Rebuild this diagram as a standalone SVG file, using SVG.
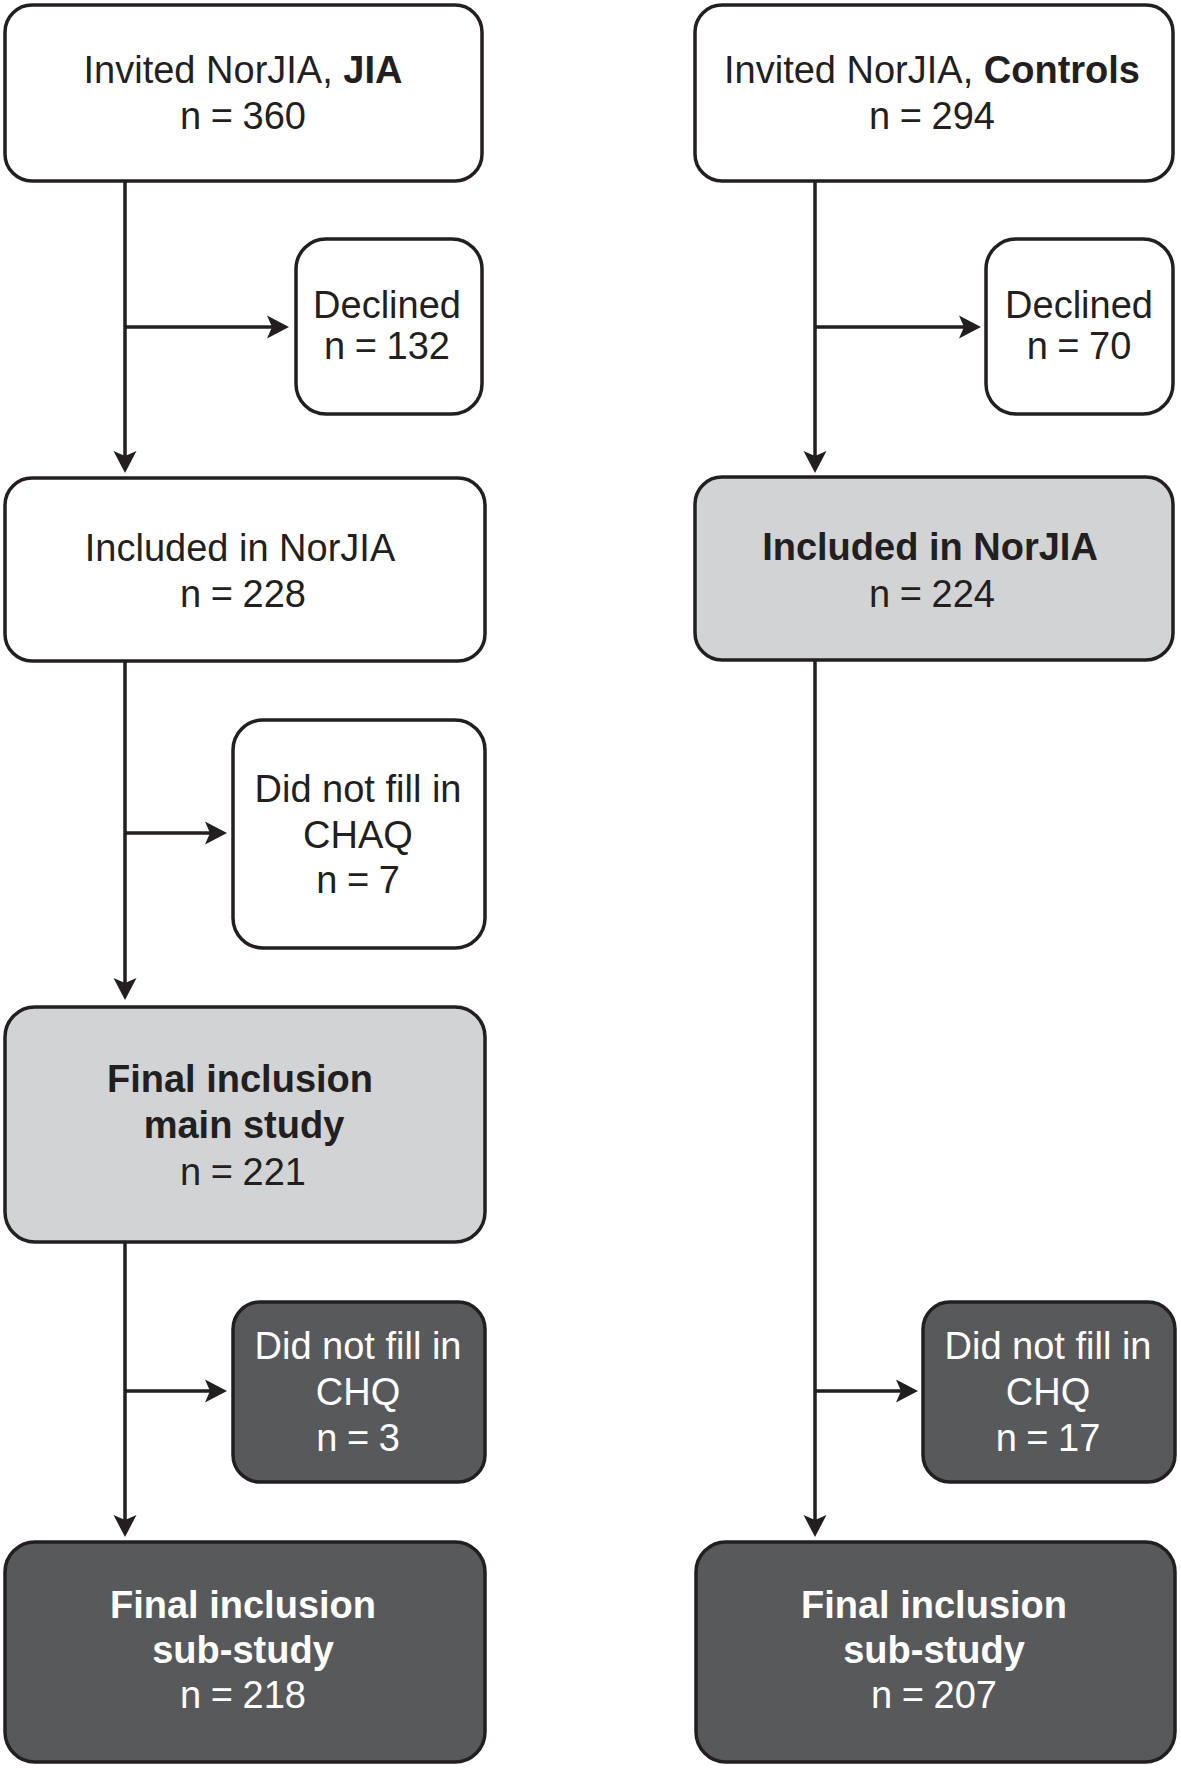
<svg xmlns="http://www.w3.org/2000/svg" width="1181" height="1770" viewBox="0 0 1181 1770">
<defs>
<style>
.box{stroke:#231f20;stroke-width:3.5}
.white{fill:#ffffff}
.gray{fill:#d1d3d4}
.dark{fill:#58595b}
text{font-family:"Liberation Sans",Arial,sans-serif;font-size:38px;text-anchor:middle;fill:#231f20}
.b{font-weight:bold}
.lt{fill:#ffffff}
.n{word-spacing:-1px}
.conn{stroke:#231f20;stroke-width:3.5;fill:none;marker-end:url(#arr)}
</style>
<marker id="arr" markerUnits="userSpaceOnUse" markerWidth="22" markerHeight="24" viewBox="0 0 22 24" refX="16" refY="12" orient="auto">
<path d="M0,0.5 L22,12 L0,23.5 L5,12 Z" fill="#231f20"/>
</marker>
</defs>
<rect width="1181" height="1770" fill="#ffffff"/>
<g id="connectors">
<line class="conn" x1="125" y1="181" x2="125" y2="467"/>
<line class="conn" x1="125" y1="327" x2="283" y2="327"/>
<line class="conn" x1="125" y1="661" x2="125" y2="994"/>
<line class="conn" x1="125" y1="833" x2="221" y2="833"/>
<line class="conn" x1="125" y1="1242" x2="125" y2="1531"/>
<line class="conn" x1="125" y1="1391" x2="221" y2="1391"/>
<line class="conn" x1="815" y1="181" x2="815" y2="467"/>
<line class="conn" x1="815" y1="327" x2="975" y2="327"/>
<line class="conn" x1="815" y1="660" x2="815" y2="1531"/>
<line class="conn" x1="815" y1="1391" x2="912" y2="1391"/>
</g>
<g id="invited-jia">
<rect class="box white" x="5" y="5" width="477" height="176" rx="27"/>
<text x="243" y="83">Invited NorJIA, <tspan class="b">JIA</tspan></text>
<text class="n" x="243" y="129">n = 360</text>
</g>
<g id="declined-jia">
<rect class="box white" x="296" y="239" width="186" height="175" rx="30"/>
<text x="387" y="318">Declined</text>
<text class="n" x="387" y="359">n = 132</text>
</g>
<g id="included-jia">
<rect class="box white" x="5" y="478" width="480" height="183" rx="27"/>
<text x="240" y="561">Included in NorJIA</text>
<text class="n" x="243" y="607">n = 228</text>
</g>
<g id="chaq-jia">
<rect class="box white" x="233" y="720" width="252" height="228" rx="30"/>
<text x="358" y="802">Did not fill in</text>
<text x="358" y="848">CHAQ</text>
<text class="n" x="358" y="893">n = 7</text>
</g>
<g id="final-main">
<rect class="box gray" x="5" y="1007" width="480" height="235" rx="30"/>
<text class="b" x="240" y="1092">Final inclusion</text>
<text class="b" x="244" y="1138">main study</text>
<text class="n" x="243" y="1185">n = 221</text>
</g>
<g id="chq-jia">
<rect class="box dark" x="233" y="1302" width="252" height="180" rx="27"/>
<text class="lt" x="358" y="1359">Did not fill in</text>
<text class="lt" x="358" y="1405">CHQ</text>
<text class="lt n" x="358" y="1451">n = 3</text>
</g>
<g id="final-sub-jia">
<rect class="box dark" x="5" y="1542" width="480" height="220" rx="30"/>
<text class="b lt" x="243" y="1618">Final inclusion</text>
<text class="b lt" x="243" y="1663">sub-study</text>
<text class="lt n" x="243" y="1708">n = 218</text>
</g>
<g id="invited-controls">
<rect class="box white" x="695" y="5" width="478" height="176" rx="27"/>
<text x="932" y="83">Invited NorJIA, <tspan class="b">Controls</tspan></text>
<text class="n" x="932" y="129">n = 294</text>
</g>
<g id="declined-controls">
<rect class="box white" x="986" y="239" width="187" height="175" rx="30"/>
<text x="1079" y="318">Declined</text>
<text class="n" x="1079" y="359">n = 70</text>
</g>
<g id="included-controls">
<rect class="box gray" x="695" y="477" width="478" height="183" rx="27"/>
<text class="b" x="930" y="560">Included in NorJIA</text>
<text class="n" x="932" y="607">n = 224</text>
</g>
<g id="chq-controls">
<rect class="box dark" x="923" y="1302" width="252" height="180" rx="27"/>
<text class="lt" x="1048" y="1359">Did not fill in</text>
<text class="lt" x="1048" y="1405">CHQ</text>
<text class="lt n" x="1048" y="1451">n = 17</text>
</g>
<g id="final-sub-controls">
<rect class="box dark" x="696" y="1542" width="479" height="220" rx="30"/>
<text class="b lt" x="934" y="1618">Final inclusion</text>
<text class="b lt" x="934" y="1663">sub-study</text>
<text class="lt n" x="934" y="1708">n = 207</text>
</g>
</svg>
